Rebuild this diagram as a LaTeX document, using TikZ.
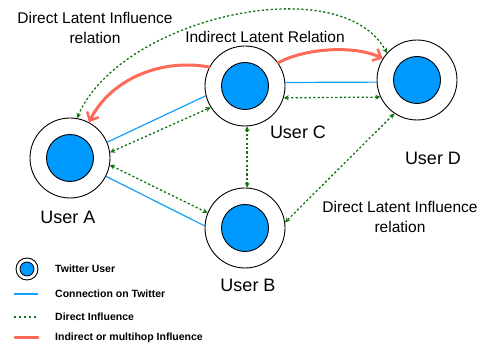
\documentclass[tikz,border=0pt]{standalone}
\usepackage{fontspec}
\setmainfont{Liberation Sans}
\usetikzlibrary{arrows.meta}
\definecolor{ublue}{RGB}{0,153,255}
\definecolor{lblue}{RGB}{20,160,255}
\definecolor{dgreen}{RGB}{20,115,20}
\definecolor{sred}{RGB}{255,105,88}
\tikzset{
  user/.style={circle,draw=black,line width=0.9pt,minimum size=80pt,inner sep=0pt,
    path picture={\fill[ublue,draw=black,line width=0.9pt] (path picture bounding box.center) circle (23.5pt);}},
  conn/.style={draw=lblue,line width=1.2pt},
  dinf/.style={draw=dgreen,line width=1.3pt,dash pattern=on 2.2pt off 2.2pt,{Stealth[length=5pt,width=5pt]}-{Stealth[length=5pt,width=5pt]}},
  iinf/.style={draw=sred,line width=3pt,line cap=round,-{Straight Barb[length=7pt,width=13pt,line width=2.5pt]}},
  lbl/.style={font=\fontsize{18}{21}\selectfont},
  note/.style={font=\fontsize{15.5}{20}\selectfont,align=center},
  leg/.style={font=\fontsize{10.5}{12}\selectfont\bfseries,anchor=west,inner sep=0pt}
}
\begin{document}
\begin{tikzpicture}[x=1pt,y=-1pt]
\useasboundingbox[fill=white] (0,0) rectangle (482,347);
\node[user] (A) at (70,158) {};
\node[user] (C) at (245,86) {};
\node[user] (D) at (417,80) {};
\node[user] (B) at (245,228) {};
\node[lbl] (la) at (68,217) {User A};
\node[lbl] (lc) at (298,132) {User C};
\node[lbl] (ld) at (433,158) {User D};
\node[lbl] (lb) at (248,285) {User B};
\node[note] (n1) at (95,28) {Direct Latent Influence\\relation};
\node[note] (n2) at (265,37) {Indirect Latent Relation};
\node[note] (n3) at (400,217) {Direct Latent Influence\\relation};
% connections
\draw[conn] (A.23) -- (C.194);
\draw[conn] (A.-27) -- (B.177);
\draw[conn] (C.5) -- (D.183);
% direct influence
\draw[dinf] (A.8) -- (C.212);
\draw[dinf] (A.-10) -- (B.158);
\draw[dinf] (C.-87) -- (B.87);
\draw[dinf] (C.-17) -- (D.205);
\draw[dinf] (D.236) -- (B.8);
\draw[dinf] (A.80) .. controls (120,18) and (340,-32) .. (D.138);
% indirect influence
\draw[iinf] (C.35) .. controls (305,48) and (355,45) .. (D.148);
\draw[iinf] (C.152) .. controls (160,58) and (110,80) .. (A.62);
% legend
\node[circle,draw=black,line width=0.9pt,minimum size=22pt,inner sep=0pt] (lu) at (27,269) {};
\fill[ublue,draw=black,line width=0.8pt] (lu.center) circle (7pt);
\node[leg] (t1) at (55,269) {Twitter User};
\coordinate (c1) at (14,294);
\coordinate (c2) at (38,294);
\draw[conn] (c1) -- (c2);
\node[leg] (t2) at (55,294) {Connection on Twitter};
\coordinate (c3) at (14,317);
\coordinate (c4) at (38,317);
\draw[draw=dgreen,line width=1.3pt,dash pattern=on 2.2pt off 2.8pt] (c3) -- (c4);
\node[leg] (t3) at (55,317) {Direct Influence};
\coordinate (c5) at (15,338);
\coordinate (c6) at (38,338);
\draw[draw=sred,line width=3pt,line cap=round] (c5) -- (c6);
\node[leg] (t4) at (55,338) {Indirect or multihop Influence};
\end{tikzpicture}
\end{document}
